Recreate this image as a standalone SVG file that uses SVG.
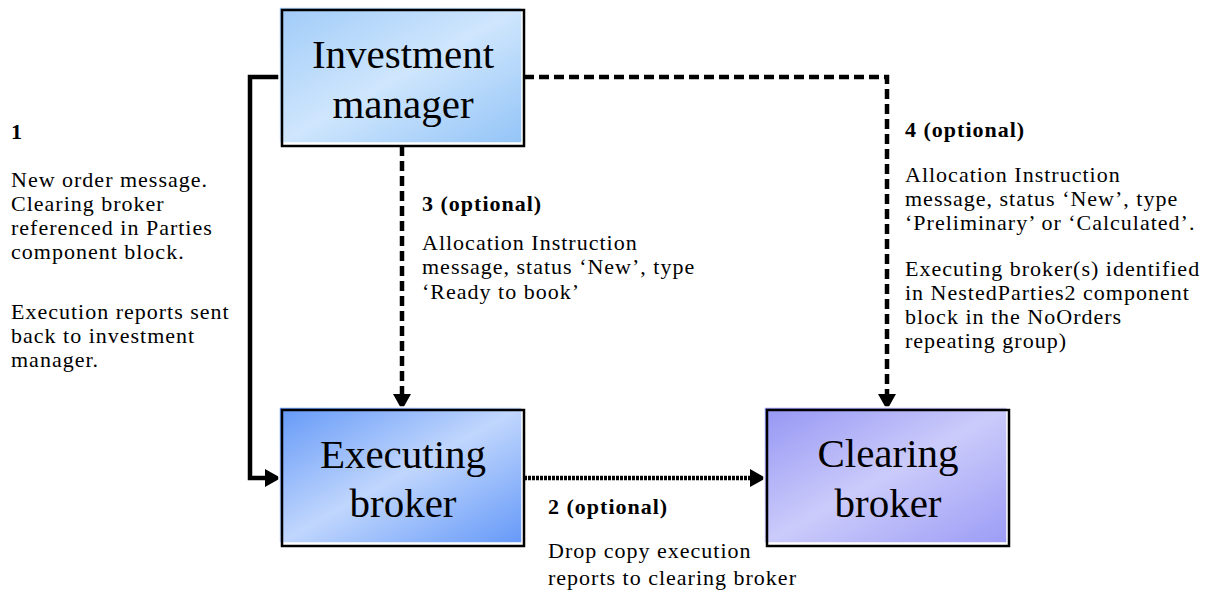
<svg xmlns="http://www.w3.org/2000/svg" width="1208" height="592" viewBox="0 0 1208 592">
<style>
.hdr{font-family:"Liberation Serif","Times New Roman",serif;font-size:41px;fill:#000;text-anchor:middle}
.txt{font-family:"Liberation Serif","Times New Roman",serif;font-size:22px;fill:#000;letter-spacing:1px}
.bold{font-weight:bold}
.frame{fill:none;stroke:#000;stroke-width:2.5}
.fillr{stroke:#fff;stroke-width:1.5}
.solid{fill:none;stroke:#000;stroke-width:4.5}
.dash{fill:none;stroke:#000;stroke-width:4.5;stroke-dasharray:10 5}
.dot{fill:none;stroke:#000;stroke-width:4.5;stroke-dasharray:3 1}
</style>
<defs>
<linearGradient id="gIM" x1="0" y1="0" x2="1" y2="1">
<stop offset="0" stop-color="#9fcbf8"/><stop offset="0.5" stop-color="#cfe6fd"/><stop offset="1" stop-color="#93c4f7"/>
</linearGradient>
<linearGradient id="gEB" x1="0" y1="0" x2="1" y2="1">
<stop offset="0" stop-color="#6398f7"/><stop offset="0.5" stop-color="#c0d6fd"/><stop offset="1" stop-color="#6599f8"/>
</linearGradient>
<linearGradient id="gCB" x1="0" y1="0" x2="1" y2="1">
<stop offset="0" stop-color="#9595f4"/><stop offset="0.5" stop-color="#cbcbfb"/><stop offset="1" stop-color="#9c9cf6"/>
</linearGradient>
<marker id="arr" markerUnits="userSpaceOnUse" markerWidth="17" markerHeight="19" refX="0" refY="9" orient="auto" viewBox="0 0 17 18">
<path d="M0,0 L16,9 L0,18 z" fill="#000"/>
</marker>
</defs>

<g id="connectors">
<path class="solid" d="M282,77 H250 V478 H265" marker-end="url(#arr)"/>
<path class="dash" d="M524,77 H887 V394" marker-end="url(#arr)"/>
<path class="dash" d="M402,146 V394" marker-end="url(#arr)"/>
<path class="dot" d="M524,478 H750" marker-end="url(#arr)"/>
</g>

<g id="investment-manager">
<rect class="fillr" x="279" y="7" width="243" height="136" fill="url(#gIM)"/>
<rect class="frame" x="282" y="10" width="242" height="136"/>
<text class="hdr" x="403" y="68">Investment</text>
<text class="hdr" x="403" y="118">manager</text>
</g>

<g id="executing-broker">
<rect class="fillr" x="279" y="407" width="243" height="136" fill="url(#gEB)"/>
<rect class="frame" x="282" y="410" width="242" height="136"/>
<text class="hdr" x="403" y="468">Executing</text>
<text class="hdr" x="403" y="517">broker</text>
</g>

<g id="clearing-broker">
<rect class="fillr" x="764" y="407" width="243" height="136" fill="url(#gCB)"/>
<rect class="frame" x="767" y="410" width="242" height="136"/>
<text class="hdr" x="888" y="467">Clearing</text>
<text class="hdr" x="888" y="517">broker</text>
</g>

<g id="label-1">
<text class="txt bold" x="11" y="139">1</text>
<text class="txt" x="11" y="187">New order message.</text>
<text class="txt" x="11" y="211">Clearing broker</text>
<text class="txt" x="11" y="235">referenced in Parties</text>
<text class="txt" x="11" y="259">component block.</text>
<text class="txt" x="11" y="319">Execution reports sent</text>
<text class="txt" x="11" y="343">back to investment</text>
<text class="txt" x="11" y="367">manager.</text>
</g>

<g id="label-3">
<text class="txt bold" x="422" y="211">3 (optional)</text>
<text class="txt" x="422" y="250">Allocation Instruction</text>
<text class="txt" x="422" y="274">message, status ‘New’, type</text>
<text class="txt" x="422" y="299">‘Ready to book’</text>
</g>

<g id="label-4">
<text class="txt bold" x="905" y="137">4 (optional)</text>
<text class="txt" x="905" y="182">Allocation Instruction</text>
<text class="txt" x="905" y="206">message, status ‘New’, type</text>
<text class="txt" x="905" y="230">‘Preliminary’ or ‘Calculated’.</text>
<text class="txt" x="905" y="276">Executing broker(s) identified</text>
<text class="txt" x="905" y="300">in NestedParties2 component</text>
<text class="txt" x="905" y="324">block in the NoOrders</text>
<text class="txt" x="905" y="348">repeating group)</text>
</g>

<g id="label-2">
<text class="txt bold" x="548" y="514">2 (optional)</text>
<text class="txt" x="548" y="558">Drop copy execution</text>
<text class="txt" x="548" y="585">reports to clearing broker</text>
</g>
</svg>
